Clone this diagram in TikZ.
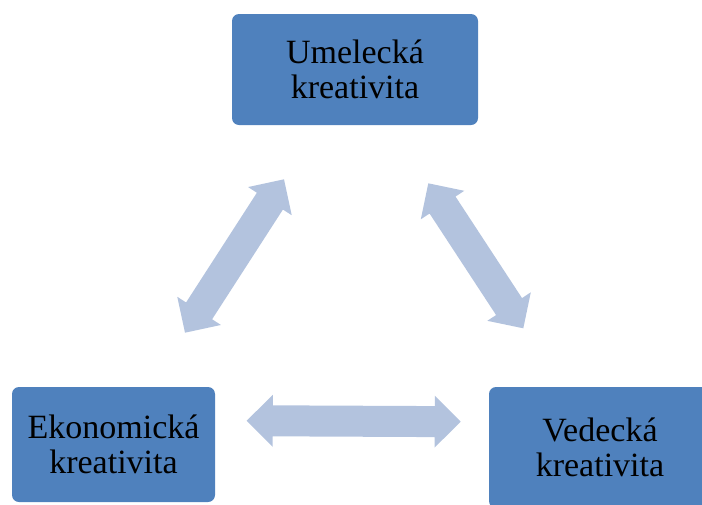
\documentclass[tikz,border=0pt]{standalone}
\usepackage{fontspec}
\setmainfont{Liberation Serif}
\usetikzlibrary{calc}
\definecolor{boxblue}{HTML}{4F81BD}
\definecolor{arrowblue}{HTML}{B3C3DE}
\tikzset{
  kbox/.style={fill=boxblue, draw=none, rounded corners=7pt, align=center,
    inner sep=0pt, text=black, font=\fontsize{34}{35}\selectfont},
  barrow/.style={fill=arrowblue, draw=none}
}
\newcommand{\dblarrow}[2]{%
  \fill[barrow] (#1)
    -- ($($(#1)!26pt!(#2)$)!26pt!90:(#2)$)
    -- ($($(#1)!26pt!(#2)$)!15.5pt!90:(#2)$)
    -- ($($(#2)!26pt!(#1)$)!15.5pt!-90:(#1)$)
    -- ($($(#2)!26pt!(#1)$)!26pt!-90:(#1)$)
    -- (#2)
    -- ($($(#2)!26pt!(#1)$)!26pt!90:(#1)$)
    -- ($($(#2)!26pt!(#1)$)!15.5pt!90:(#1)$)
    -- ($($(#1)!26pt!(#2)$)!15.5pt!-90:(#2)$)
    -- ($($(#1)!26pt!(#2)$)!26pt!-90:(#2)$)
    -- cycle;}
\begin{document}
\begin{tikzpicture}[x=1pt,y=-1pt]
\useasboundingbox (0,0) rectangle (702,504);
\clip (0,0) rectangle (702,504);
\node[kbox, minimum width=246pt, minimum height=111pt] (um) at (355,69.5) {Umelecká\\kreativita};
\node[kbox, minimum width=203pt, minimum height=115pt] (ek) at (113.5,444.5) {Ekonomická\\kreativita};
\node[kbox, minimum width=222pt, minimum height=121pt] (ve) at (600,447.5) {Vedecká\\kreativita};
\coordinate (la) at (284,179.3);
\coordinate (lb) at (185,332.7);
\coordinate (ra) at (428.3,183.3);
\coordinate (rb) at (523.3,328.3);
\coordinate (ba) at (246.7,420.7);
\coordinate (bb) at (460.7,421.7);
\dblarrow{la}{lb}
\dblarrow{ra}{rb}
\dblarrow{ba}{bb}
\end{tikzpicture}
\end{document}
